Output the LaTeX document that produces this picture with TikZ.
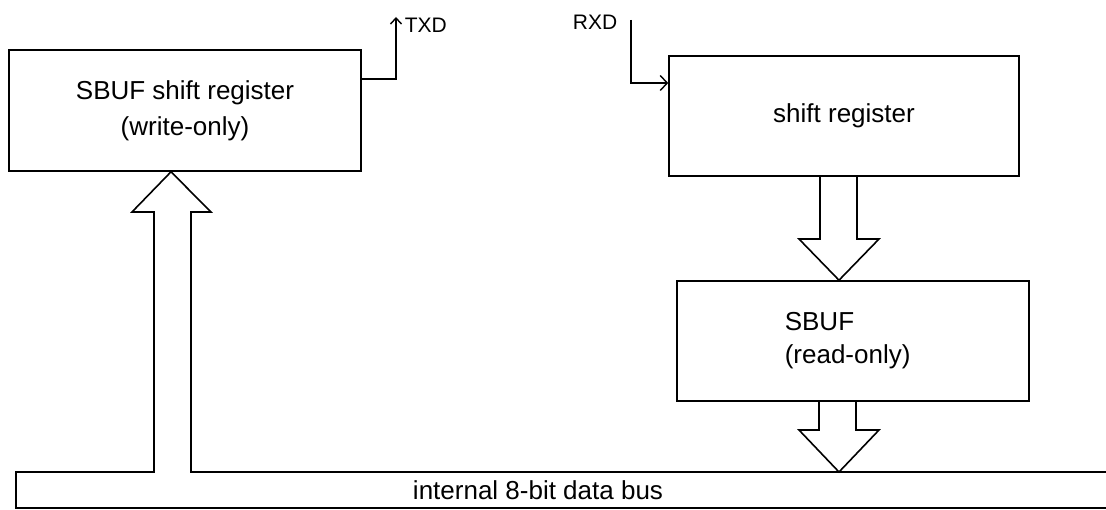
\documentclass[tikz,border=0pt]{standalone}
\usepackage{fontspec}
\setmainfont{Liberation Sans}
\usetikzlibrary{arrows.meta}
\begin{document}
\begin{tikzpicture}[x=1pt,y=-1pt,line width=1.6pt,
  regbox/.style={draw,inner sep=0pt,align=center,
    font=\fontsize{26}{36}\selectfont},
  pinlabel/.style={inner sep=0pt,font=\fontsize{21}{25}\selectfont},
  sig/.style={line width=1.4pt},
  blockarrow/.style={line width=1.6pt,line join=miter}]
\useasboundingbox (0,0) rectangle (1106,510);

% transmit side
\node[regbox,minimum width=352pt,minimum height=121pt] (tx) at (185,110.5)
  {SBUF shift register\\(write-only)};

% receive side
\node[regbox,minimum width=350pt,minimum height=120pt] (rx) at (844,116)
  {shift register};
\node[regbox,minimum width=352pt,minimum height=120pt] (sbuf) at (853,341) {};
\node[inner sep=0pt,anchor=west,align=left,font=\fontsize{26}{33}\selectfont]
  (sbuftext) at (784,341) {SBUF\\(read-only)};

% serial pins
\coordinate (txdpin) at (396,17);
\node[pinlabel,anchor=west] (txd) at (404,25) {TXD};
\draw[sig,-{Straight Barb[length=6pt,width=11pt]}] (tx.east |- 0,79) -| (txdpin);

\coordinate (rxdpin) at (631,20);
\node[pinlabel,anchor=east] (rxd) at (618,22) {RXD};
\draw[sig,-{Straight Barb[length=7pt,width=15pt]}] (rxdpin) |- (rx.west |- 0,83);

% internal data bus with the write path up to the transmit register
\draw[blockarrow] (1106,472) -- (191,472) -- (191,212) -- (211,212)
  -- (tx.south -| 171,0) -- (132,212) -- (154,212) -- (154,472)
  -- (16,472) -- (16,508) -- (1106,508);
\node[inner sep=0pt,font=\fontsize{26}{30}\selectfont] (bus) at (538,490)
  {internal 8-bit data bus};

% shift register -> SBUF
\draw[blockarrow] (rx.south -| 820,0) -- (820,239) -- (799,239)
  -- (sbuf.north -| 839,0) -- (879,239) -- (857,239) -- (rx.south -| 857,0);

% SBUF -> bus
\draw[blockarrow] (sbuf.south -| 819,0) -- (819,430) -- (799,430)
  -- (839,472) -- (879,430) -- (856,430) -- (sbuf.south -| 856,0);
\end{tikzpicture}
\end{document}
